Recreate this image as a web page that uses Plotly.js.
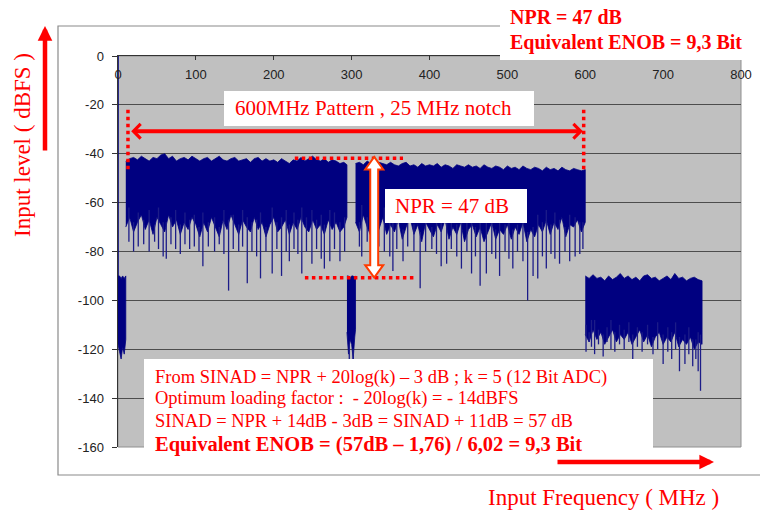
<!DOCTYPE html>
<html>
<head>
<meta charset="utf-8">
<script src="https://cdn.plot.ly/plotly-3.0.1.min.js"></script>
<style>html,body{margin:0;padding:0;background:#fff;}#chart{width:760px;height:510px;}</style>
</head>
<body>
<div id="chart"></div>
<script>
// ---------- data ----------
const xTickVals = [0,100,200,300,400,500,600,700,800];
const xTickText = ['0','100','200','300','400','500','600','700','800'];
const yTickVals = [0,-20,-40,-60,-80,-100,-120,-140,-160];
const yTickText = ['0','-20','-40','-60','-80','-100','-120','-140','-160'];

// DC line
const dcFreq = [0, 0];
const dcLevel = [0, -96];

// low-level region below the pattern (0-10 MHz)
const lowFreq   = [0, 2, 4, 6, 8, 10];
const lowTop    = [-90, -90, -91, -90, -91, -90];
const lowBottom = [-118, -121, -124, -119, -122, -116];

// left part of the pattern (10-294 MHz)
const leftFreq = [10,15,20,25,30,35,40,45,50,55,
                  60,65,70,75,80,85,90,95,100,105,
                  110,115,120,125,130,135,140,145,150,155,
                  160,165,170,175,180,185,190,195,200,205,
                  210,215,220,225,230,235,240,245,250,255,
                  260,265,270,275,280,285,290,294];
const leftTop = [-43,-42,-41.5,-42.5,-41,-42,-43,-41.5,-42,-40.5,
                 -40,-42,-41,-43,-42,-41.5,-42.5,-41,-42,-43,
                 -42,-41.5,-43,-42,-41,-42.5,-43,-42,-41.5,-43,
                 -42.5,-42,-43.5,-42,-41.5,-43,-42,-43,-42.5,-43.5,
                 -42,-43,-44,-42.5,-43,-41.5,-43,-42,-41,-42.5,
                 -43,-42,-43.5,-42.5,-43,-44,-43.5,-44.5];
const leftBottom = [-70,-66,-72,-68,-65,-71,-67,-73,-66,-69,
                    -72,-65,-70,-67,-73,-68,-71,-66,-69,-74,
                    -68,-72,-66,-70,-74,-67,-71,-65,-69,-73,
                    -67,-70,-72,-66,-71,-68,-74,-69,-66,-72,
                    -70,-67,-73,-68,-71,-66,-70,-72,-67,-71,
                    -69,-73,-67,-71,-68,-72,-70,-66];

// 25 MHz notch (294-305 MHz)
const notchFreq   = [294, 296, 298, 300, 302, 304, 305];
const notchTop    = [-90, -90, -91, -90, -90, -91, -90];
const notchBottom = [-113, -122, -116, -118, -124, -115, -112];

// right part of the pattern (305-600 MHz)
const rightFreq = [305,310,315,320,325,330,335,340,345,350,
                   355,360,365,370,375,380,385,390,395,400,
                   405,410,415,420,425,430,435,440,445,450,
                   455,460,465,470,475,480,485,490,495,500,
                   505,510,515,520,525,530,535,540,545,550,
                   555,560,565,570,575,580,585,590,595,600];
const rightTop = [-44,-43.5,-44.5,-43,-44,-45,-43.5,-44,-44.5,-43.5,
                  -44.5,-45,-44,-43.5,-45,-44.5,-45.5,-44,-45,-44.5,
                  -45,-44,-45.5,-44.5,-45,-46,-44.5,-45,-45.5,-44.5,
                  -45.5,-45,-46,-44.5,-45.5,-46,-45,-45.5,-46.5,-45,
                  -46,-45.5,-46.5,-45,-46,-46.5,-45.5,-46,-47,-45.5,
                  -46.5,-46,-47,-45.5,-46.5,-47,-46,-46.5,-47,-46.5];
const rightBottom = [-68,-72,-65,-70,-74,-67,-71,-66,-73,-69,
                     -72,-67,-75,-70,-66,-73,-69,-76,-68,-71,
                     -74,-69,-72,-67,-75,-70,-73,-68,-76,-71,
                     -69,-74,-70,-76,-72,-68,-75,-71,-73,-69,
                     -75,-70,-73,-68,-76,-71,-74,-69,-72,-67,
                     -73,-68,-71,-66,-74,-69,-70,-67,-72,-68];

// out-of-band region (600-750 MHz)
const outFreq = [600,605,610,615,620,625,630,635,640,645,
                 650,655,660,665,670,675,680,685,690,695,
                 700,705,710,715,720,725,730,735,740,745,750];
const outTop = [-90,-91,-89.5,-91,-90.5,-92,-90,-91.5,-90.5,-89,
                -91,-90,-91.5,-90.5,-92,-90,-89.5,-91,-90.5,-92,
                -91,-90,-91.5,-89,-91,-90.5,-92,-91,-90.5,-91.5,-92];
const outBottom = [-114,-117,-112,-116,-113,-118,-115,-112,-117,-114,
                   -116,-113,-118,-115,-112,-117,-114,-119,-115,-113,
                   -118,-115,-117,-113,-119,-116,-118,-115,-120,-117,-118];

// deep individual spikes below the dense noise body
const spikeFreq = [14,20,26,33,40,47,52,58,62,68,74,80,86,92,98,104,109,116,124,130,136,142,148,155,160,166,172,178,183,190,198,204,210,216,220,226,231,236,242,249,255,261,265,272,278,285,291,
                   297,302,
                   310,313,320,327,335,342,349,353,358,366,372,380,388,395,403,409,415,422,428,435,441,448,454,459,465,473,480,485,490,497,502,507,513,520,526,533,539,545,550,556,561,567,574,580,587,593,597,
                   601,605,608,612,617,623,628,633,638,644,650,656,661,667,673,680,687,693,700,706,711,716,721,728,733,738,742,745,748];
const spikeLow = [-76,-80,-78,-77,-80,-76,-79,-82,-83,-77,-79,-81,-77,-79,-78,-80,-86,-78,-80,-77,-81,-96,-79,-80,-78,-93,-80,-82,-91,-80,-89,-79,-90,-80,-84,-79,-81,-89,-80,-85,-79,-83,-87,-84,-79,-84,-80,
                  -127,-126,
                  -78,-82,-76,-79,-78,-80,-82,-88,-79,-84,-78,-80,-95,-80,-79,-81,-86,-85,-79,-82,-87,-80,-89,-82,-94,-89,-81,-83,-90,-80,-83,-87,-80,-84,-100,-90,-91,-82,-87,-81,-83,-85,-80,-84,-82,-81,-79,
                  -121,-117,-119,-122,-118,-123,-117,-120,-121,-118,-120,-117,-125,-119,-121,-118,-122,-120,-126,-121,-124,-120,-129,-126,-122,-127,-124,-129,-137];

// ---------- build traces ----------
const NAVY = '#000080';
function band(freq, top, bottom) {
  return {
    type: 'scatter', mode: 'lines', hoverinfo: 'skip', showlegend: false,
    x: freq.concat(freq.slice().reverse()),
    y: top.concat(bottom.slice().reverse()),
    fill: 'toself', fillcolor: NAVY,
    line: {color: NAVY, width: 0.8}
  };
}
const bands = [
  [lowFreq, lowTop, lowBottom],
  [leftFreq, leftTop, leftBottom],
  [notchFreq, notchTop, notchBottom],
  [rightFreq, rightTop, rightBottom],
  [outFreq, outTop, outBottom]
];
function baseAt(f) {
  for (const [fr, , bo] of bands) {
    if (f >= fr[0] && f <= fr[fr.length - 1]) {
      let best = 0;
      for (let i = 0; i < fr.length; i++) if (Math.abs(fr[i] - f) < Math.abs(fr[best] - f)) best = i;
      return bo[best] + 4;
    }
  }
  return null;
}
const sx = [], sy = [];
spikeFreq.forEach((f, i) => { sx.push(f, f, null); sy.push(baseAt(f), spikeLow[i], null); });

const traces = bands.map(b => band(b[0], b[1], b[2]));
traces.push({type: 'scatter', mode: 'lines', hoverinfo: 'skip', showlegend: false,
  x: sx, y: sy, line: {color: '#1c1c88', width: 1.3}});
traces.push({type: 'scatter', mode: 'lines', hoverinfo: 'skip', showlegend: false,
  x: dcFreq, y: dcLevel, line: {color: NAVY, width: 1.5}});

// ---------- layout ----------
const RED = '#ff0000';
const SERIF = 'Liberation Serif, Times New Roman, serif';
const L = 118, T = 56, W = 623, H = 391;
const px = v => (v - L) / W;          // pixel x -> paper x
const py = v => (T + H - v) / H;      // pixel y -> paper y

const shapes = [
  // outer chart frame
  {type: 'rect', xref: 'paper', yref: 'paper', x0: px(58), x1: px(764), y0: py(475), y1: py(26),
   line: {color: '#8a8a8a', width: 1.2}, layer: 'below'},
  // plot border
  {type: 'rect', xref: 'paper', yref: 'paper', x0: 0, x1: 1, y0: 0, y1: 1,
   line: {color: '#909090', width: 1}, layer: 'below'},
  // white label boxes
  {type: 'rect', xref: 'paper', yref: 'paper', x0: px(500), x1: px(764), y0: py(60), y1: py(-4),
   fillcolor: '#fff', line: {width: 0}, layer: 'above'},
  {type: 'rect', xref: 'paper', yref: 'paper', x0: px(224), x1: px(534), y0: py(126), y1: py(91),
   fillcolor: '#fff', line: {width: 0}, layer: 'above'},
  {type: 'rect', xref: 'paper', yref: 'paper', x0: px(385), x1: px(527), y0: py(223), y1: py(189),
   fillcolor: '#fff', line: {width: 0}, layer: 'above'},
  {type: 'rect', xref: 'paper', yref: 'paper', x0: px(144), x1: px(653), y0: py(466), y1: py(359),
   fillcolor: '#fff', line: {width: 0}, layer: 'above'},
  // dotted markers
  {type: 'line', xref: 'x', yref: 'y', x0: 12.8, x1: 12.8, y0: -22, y1: -46.7,
   line: {color: RED, width: 3.5, dash: 'dot'}, layer: 'above'},
  {type: 'line', xref: 'x', yref: 'y', x0: 598, x1: 598, y0: -22, y1: -46.7,
   line: {color: RED, width: 3.5, dash: 'dot'}, layer: 'above'},
  {type: 'line', xref: 'x', yref: 'y', x0: 227, x1: 366, y0: -41.8, y1: -41.8,
   line: {color: RED, width: 3.5, dash: 'dot'}, layer: 'above'},
  {type: 'line', xref: 'x', yref: 'y', x0: 240, x1: 381, y0: -90.7, y1: -90.7,
   line: {color: RED, width: 3.5, dash: 'dot'}, layer: 'above'},
  // hollow double arrow (NPR)
  {type: 'path', xref: 'x', yref: 'y', layer: 'above',
   path: 'M329,-41.3 L340.6,-46.4 L334.1,-46.4 L334.1,-85.6 L340.6,-85.6 L329,-90.7 L317.4,-85.6 L323.9,-85.6 L323.9,-46.4 L317.4,-46.4 Z',
   fillcolor: '#ffffff', line: {color: '#ff3c00', width: 2}}
];

const ann = (o) => Object.assign({showarrow: false, xref: 'paper', yref: 'paper', xanchor: 'left', yanchor: 'middle'}, o);
const annotations = [
  ann({x: px(508), y: py(17), text: '<b>NPR = 47 dB</b>', font: {family: SERIF, size: 20, color: RED}}),
  ann({x: px(508), y: py(43), text: '<b>Equivalent ENOB = 9,3 Bit</b>', font: {family: SERIF, size: 20, color: RED}}),
  ann({x: px(233), y: py(108), text: '600MHz Pattern , 25 MHz notch', font: {family: SERIF, size: 21, color: RED}}),
  ann({x: px(393), y: py(206), text: 'NPR = 47 dB', font: {family: SERIF, size: 21, color: RED}}),
  ann({x: px(153), y: py(377), text: 'From SINAD = NPR + 20log(k) \u2013 3 dB ; k = 5 (12 Bit ADC)', font: {family: SERIF, size: 18.5, color: RED}}),
  ann({x: px(153), y: py(398), text: 'Optimum loading factor :  - 20log(k) = - 14dBFS', font: {family: SERIF, size: 18.5, color: RED}}),
  ann({x: px(153), y: py(421), text: 'SINAD = NPR + 14dB - 3dB = SINAD + 11dB = 57 dB', font: {family: SERIF, size: 18.5, color: RED}}),
  ann({x: px(153), y: py(444), text: '<b>Equivalent ENOB = (57dB \u2013 1,76) / 6,02 = 9,3 Bit</b>', font: {family: SERIF, size: 20.5, color: RED}}),
  // axis titles
  ann({x: px(22), y: py(145), xanchor: 'center', text: 'Input level ( dBFS )', textangle: -90, font: {family: SERIF, size: 23, color: RED}}),
  ann({x: px(603), y: py(497), xanchor: 'center', text: 'Input Frequency ( MHz )', font: {family: SERIF, size: 23, color: RED}}),
  // arrows
  {xref: 'paper', yref: 'paper', x: px(45), y: py(26), ax: 0, ay: 126, text: '', showarrow: true,
   arrowhead: 2, arrowsize: 0.65, arrowwidth: 4.5, arrowcolor: RED, standoff: 0, startstandoff: 0},
  {xref: 'paper', yref: 'paper', x: px(714), y: py(462), ax: -158, ay: 0, text: '', showarrow: true,
   arrowhead: 2, arrowsize: 0.65, arrowwidth: 4.5, arrowcolor: RED, standoff: 0, startstandoff: 0},
  {xref: 'x', yref: 'y', axref: 'x', ayref: 'y', x: 597, y: -30.8, ax: 15, ay: -30.8, text: '', showarrow: true,
   arrowside: 'end+start', arrowhead: 4, startarrowhead: 4, arrowsize: 0.7, startarrowsize: 0.7,
   arrowwidth: 4, arrowcolor: RED, standoff: 0, startstandoff: 0}
];

const layout = {
  width: 760, height: 510,
  margin: {l: L, r: 760 - L - W, t: T, b: 510 - T - H, pad: 0},
  paper_bgcolor: '#ffffff', plot_bgcolor: '#c0c0c0',
  showlegend: false,
  xaxis: {
    range: [0, 800], side: 'top', tickmode: 'array', tickvals: xTickVals, ticktext: xTickText,
    ticks: 'inside', ticklen: 4, tickwidth: 1, tickcolor: '#333',
    ticklabelposition: 'inside', ticklabeloverflow: 'allow', ticklabelstandoff: 10,
    showline: true, linecolor: '#333', linewidth: 1.5, showgrid: false, zeroline: false,
    tickfont: {family: 'Liberation Sans, Arial, sans-serif', size: 13, color: '#222'}, fixedrange: true
  },
  yaxis: {
    range: [-160, 0], tickmode: 'array', tickvals: yTickVals, ticktext: yTickText,
    ticks: 'outside', ticklen: 5, tickwidth: 1, tickcolor: '#333', ticklabelstandoff: 5,
    showline: true, linecolor: '#333', linewidth: 1.5,
    showgrid: true, gridcolor: '#4d4d4d', gridwidth: 1, zeroline: false,
    tickfont: {family: 'Liberation Sans, Arial, sans-serif', size: 13, color: '#222'}, fixedrange: true
  },
  shapes: shapes,
  annotations: annotations
};

Plotly.newPlot('chart', traces, layout, {displayModeBar: false, staticPlot: true});
</script>
</body>
</html>
